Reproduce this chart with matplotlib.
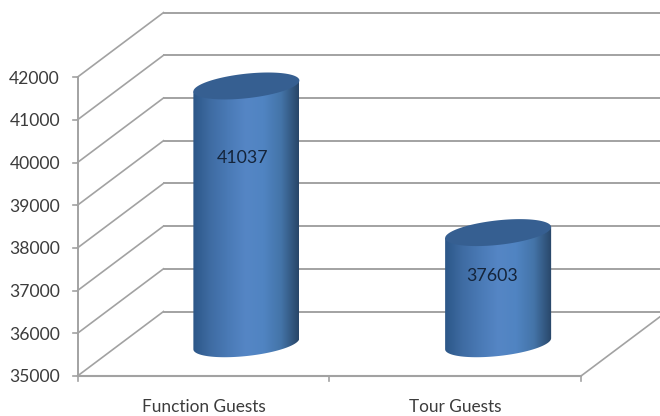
import numpy as np
import matplotlib
matplotlib.use("Agg")
import matplotlib.pyplot as plt
from matplotlib.colors import LinearSegmentedColormap
from matplotlib.patches import Polygon

# Datos del grafico
categories = ["Function Guests", "Tour Guests"]
guests = [41037, 37603]
y_ticks = [35000, 36000, 37000, 38000, 39000, 40000, 41000, 42000]

plt.rcParams["font.family"] = ["Lato", "DejaVu Sans"]

W, H = 660, 416
fig = plt.figure(figsize=(W / 100, H / 100), dpi=100)
ax = fig.add_axes([0, 0, 1, 1])
ax.axis("off")

# Escalas: una categoria = 251.75 px, 1000 invitados = 42.7 px
px_x = 1 / 251.75
px_y = 1000 / 42.7
ax.set_xlim(-77.5 * px_x, (W - 77.5) * px_x)
ax.set_ylim(35000 - (H - 376) * px_y, 35000 + 376 * px_y)

# Profundidad de la pared trasera
depth_x = 86 * px_x
depth_y = 64.5 * px_y

GRID = "#a2a2a2"
TEXT = "#3c3c3c"
n_cat = len(categories)

# Paredes y suelo
for v in y_ticks:
    ax.plot([0, depth_x], [v, v + depth_y], color=GRID, lw=1.2, zorder=1)
    ax.plot([depth_x, n_cat + depth_x], [v + depth_y, v + depth_y], color=GRID, lw=1.4, zorder=1)
    ax.plot([-5 * px_x, 0], [v, v], color=GRID, lw=1.2, zorder=1)
    ax.text(-17.5 * px_x, v - 1.5 * px_y, str(v), ha="right", va="center", fontsize=12.6, color=TEXT)

ax.plot([0, 0], [y_ticks[0], y_ticks[-1]], color=GRID, lw=1.4, zorder=1)
ax.plot([0, n_cat], [y_ticks[0], y_ticks[0]], color=GRID, lw=1.5, zorder=1)
ax.plot([n_cat, n_cat + depth_x], [y_ticks[0], y_ticks[0] + depth_y], color=GRID, lw=1.2, zorder=1)
for i in range(n_cat + 1):
    ax.plot([i, i], [y_ticks[0], y_ticks[0] - 5 * px_y], color=GRID, lw=1.2, zorder=1)

# Degradado del cilindro
shade = LinearSegmentedColormap.from_list(
    "cyl", ["#2c5788", "#3f6ca3", "#4a7ab6", "#5586c5", "#5084c2", "#4474a8", "#284668"])
gradient = np.linspace(0, 1, 256).reshape(1, -1)

half_w = 53 * px_x
half_h = 12.3 * px_y
skew = 5.5 * px_y
t = np.linspace(0, 2 * np.pi, 200)
arc = np.linspace(np.pi, 2 * np.pi, 100)

label_drop = [72, 43]
label_shift = [-4, -6]

for i, (cat, val) in enumerate(zip(categories, guests)):
    cx = i + 0.5 + depth_x / 2
    base = y_ticks[0] + depth_y / 2
    top = val + depth_y / 2

    # Cuerpo: arco inferior y subida hasta la tapa
    xs = cx + half_w * np.cos(arc)
    ys = base + skew * np.cos(arc) + half_h * np.sin(arc)
    body = np.column_stack([
        np.r_[xs, cx + half_w, cx - half_w],
        np.r_[ys, top + skew, top - skew],
    ])
    patch = Polygon(body, closed=True, facecolor="none", edgecolor="none", zorder=3)
    ax.add_patch(patch)
    im = ax.imshow(gradient, cmap=shade, aspect="auto", zorder=3, interpolation="bilinear",
                   extent=[cx - half_w, cx + half_w, y_ticks[0] - 30 * px_y, top + 30 * px_y])
    im.set_clip_path(patch)

    # Tapa
    ax.fill(cx + half_w * np.cos(t), top + skew * np.cos(t) + half_h * np.sin(t),
            color="#365f91", lw=0, zorder=4)

    ax.text(cx + label_shift[i] * px_x, top - label_drop[i] * px_y, str(val),
            ha="center", va="center", fontsize=12.8, color="#14243a", zorder=5)
    ax.text(i + 0.5, y_ticks[0] - 31 * px_y, cat, ha="center", va="center",
            fontsize=12.4, color=TEXT)

# imshow cambia los limites
ax.set_xlim(-77.5 * px_x, (W - 77.5) * px_x)
ax.set_ylim(35000 - (H - 376) * px_y, 35000 + 376 * px_y)

fig.savefig("out.png", dpi=100, facecolor="white")
